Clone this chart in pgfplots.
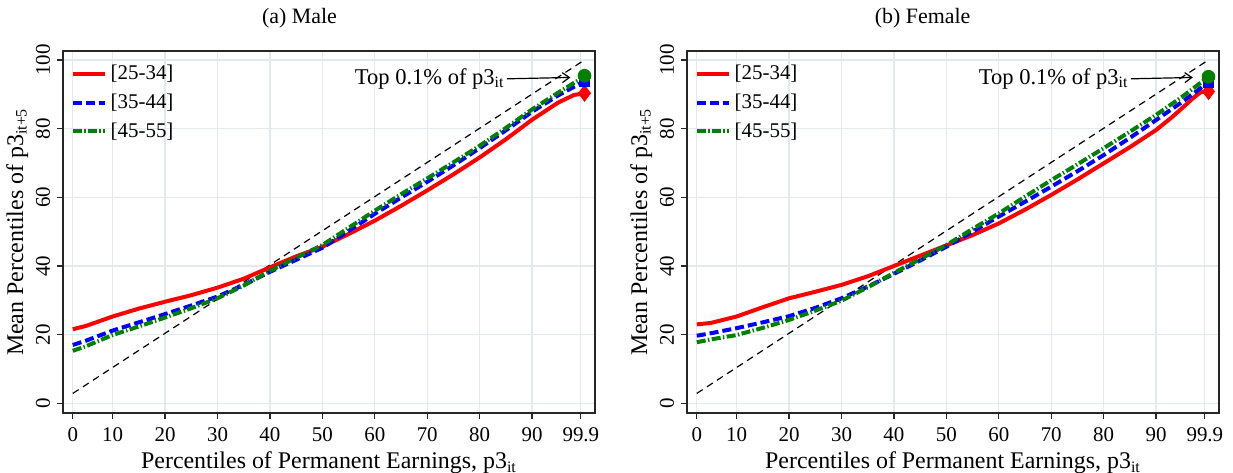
\documentclass[border=0pt]{standalone}
\usepackage{pgfplots}
\pgfplotsset{compat=1.18}
\usepackage{fontspec}
\setmainfont{Liberation Serif}
\usetikzlibrary{arrows.meta}
\definecolor{gridc}{RGB}{226,234,237}
\definecolor{sred}{RGB}{255,0,0}
\definecolor{sblue}{RGB}{0,0,255}
\definecolor{sgreen}{RGB}{0,128,0}
\tikzset{annot/.style={anchor=east, inner sep=0.5bp, font=\fontsize{11.3}{13}\selectfont}}
\pgfplotsset{
  panel/.style={
    scale only axis, width=266bp, height=181bp,
    xmin=0.53, xmax=102.0, ymin=-2.8, ymax=102.6,
    xtick={2.4,10,20,30,40,50,60,70,80,90,99.3},
    xticklabels={0,10,20,30,40,50,60,70,80,90,99.9},
    ytick={0,20,40,60,80,100},
    grid=major, major grid style={color=gridc, line width=0.6bp},
    axis line style={line width=0.7bp, color=black!85},
    tick style={color=black!85, line width=0.6bp},
    tick align=outside, major tick length=3bp,
    xtick pos=bottom, ytick pos=left,
    /pgf/number format/assume math mode=true,
    ticklabel style={font=\fontsize{10.5}{12}\selectfont},
    yticklabel style={rotate=90, anchor=south},
    xticklabel style={yshift=-1bp},
    label style={font=\fontsize{12}{14}\selectfont},
    xlabel={Percentiles of Permanent Earnings, p3\textsubscript{it}},
    ylabel={Mean Percentiles of p3\textsubscript{it+5}},
    xlabel style={yshift=2bp},
    ylabel style={yshift=-3bp},
    legend style={at={(0.01,0.978)}, anchor=north west, draw=none, fill=none,
      font=\fontsize{10.5}{12}\selectfont, row sep=1.6bp, inner sep=1bp},
    legend cell align=left,
    legend image code/.code={\draw[#1] (0bp,0bp) -- (16bp,0bp);},
  },
  rline/.style={color=sred, line width=2bp},
  bline/.style={color=sblue, line width=2bp, dash pattern=on 4.5bp off 2bp},
  gline/.style={color=sgreen, line width=2bp, dash pattern=on 4.5bp off 1.2bp on 0.7bp off 1.2bp},
  dline/.style={color=black, line width=0.6bp, dash pattern=on 3.5bp off 2.5bp},
}
\begin{document}
\begin{tikzpicture}
\useasboundingbox (-31.5bp,-30bp) rectangle (585bp,206.5bp);
% ---------------- Male ----------------
\begin{axis}[panel, at={(0,0)}, anchor=south west]
\addplot[dline, forget plot] coordinates {(2.4,2.9) (100,100)};
\addplot[rline] coordinates {
(2.4,21.6)(5,22.6)(10,25.3)(15,27.6)(20,29.6)(25,31.5)(30,33.7)(35,36.3)(40,39.6)(45,42.8)(50,45.6)(55,49.3)(60,53.2)(65,57.5)(70,62.0)(75,66.7)(80,71.6)(85,76.9)(90,82.6)(95,87.6)(98,89.8)(100,90.3)};
\addlegendentry{{[25-34]}}
\addplot[bline] coordinates {
(2.4,17.0)(5,18.3)(10,21.2)(15,23.6)(20,26.0)(25,28.5)(30,31.1)(35,34.5)(40,38.3)(45,41.8)(50,45.3)(55,50.2)(60,55.2)(65,59.9)(70,64.5)(75,69.3)(80,74.3)(85,79.5)(90,84.9)(95,89.7)(100,93.8)};
\addlegendentry{{[35-44]}}
\addplot[gline] coordinates {
(2.4,15.3)(5,16.7)(10,19.9)(15,22.4)(20,25.0)(25,27.7)(30,30.6)(35,34.3)(40,38.6)(45,42.4)(50,46.1)(55,51.1)(60,56.1)(65,60.9)(70,65.5)(75,70.2)(80,75.0)(85,80.2)(90,85.6)(95,90.5)(100,95.2)};
\addlegendentry{{[45-55]}}
\addplot[only marks, mark=diamond*, mark size=4bp, color=sred, forget plot] coordinates {(100,90.3)};
\addplot[only marks, mark=square*, mark size=2.6bp, color=sblue, forget plot] coordinates {(100,93.8)};
\addplot[only marks, mark=*, mark size=3.2bp, color=sgreen, forget plot] coordinates {(100,95.4)};
\node[annot] at (axis cs:85,94.5) {Top 0.1\% of p3\textsubscript{it}};
\draw[-{Straight Barb[length=3.5bp,width=5bp]}, line width=0.6bp] (axis cs:85.2,94.5) -- (axis cs:97.3,94.9);
\end{axis}
% ---------------- Female ----------------
\begin{axis}[panel, at={(312bp,0)}, anchor=south west]
\addplot[dline, forget plot] coordinates {(2.4,2.9) (100,100)};
\addplot[rline] coordinates {
(2.4,23.0)(5,23.4)(10,25.3)(15,28.0)(20,30.6)(25,32.5)(30,34.5)(35,37.0)(40,40.0)(45,43.0)(50,46.0)(55,49.0)(60,52.4)(65,56.4)(70,60.7)(75,65.2)(80,69.9)(85,74.6)(90,79.6)(93,83.3)(95,86.0)(97,88.8)(98.5,90.6)(100,90.8)};
\addlegendentry{{[25-34]}}
\addplot[bline] coordinates {
(2.4,19.7)(5,20.4)(10,21.9)(15,23.6)(20,25.4)(25,27.8)(30,30.6)(35,34.0)(40,37.7)(45,41.6)(50,45.6)(55,50.0)(60,54.4)(65,58.7)(70,63.1)(75,67.6)(80,72.3)(85,77.3)(90,82.5)(95,87.8)(100,93.5)};
\addlegendentry{{[35-44]}}
\addplot[gline] coordinates {
(2.4,17.8)(5,18.6)(10,19.9)(15,22.0)(20,24.3)(25,27.0)(30,29.9)(35,33.8)(40,38.0)(45,42.0)(50,46.1)(55,50.8)(60,55.3)(65,60.2)(70,65.0)(75,69.6)(80,74.3)(85,79.1)(90,84.0)(95,89.3)(100,95.1)};
\addlegendentry{{[45-55]}}
\addplot[only marks, mark=diamond*, mark size=4bp, color=sred, forget plot] coordinates {(100,90.8)};
\addplot[only marks, mark=square*, mark size=2.6bp, color=sblue, forget plot] coordinates {(100,93.5)};
\addplot[only marks, mark=*, mark size=3.2bp, color=sgreen, forget plot] coordinates {(100,95.1)};
\node[annot] at (axis cs:85,94.5) {Top 0.1\% of p3\textsubscript{it}};
\draw[-{Straight Barb[length=3.5bp,width=5bp]}, line width=0.6bp] (axis cs:85.2,94.5) -- (axis cs:97.0,94.9);
\end{axis}
\node[font=\fontsize{11}{13}\selectfont, inner sep=0pt] at (118.25bp,197.5bp) {(a) Male};
\node[font=\fontsize{11}{13}\selectfont, inner sep=0pt] at (429.85bp,197.5bp) {(b) Female};
\end{tikzpicture}
\end{document}
